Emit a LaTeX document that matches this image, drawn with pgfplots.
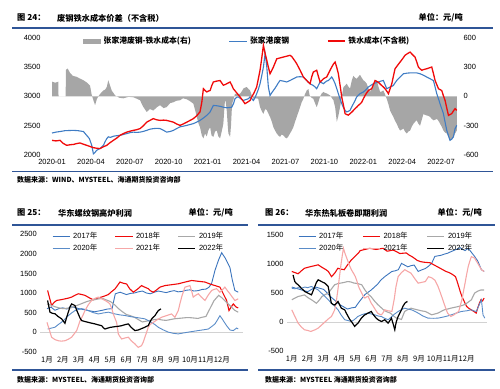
\documentclass[border=0pt]{standalone}
\usepackage{pgfplots}
\pgfplotsset{compat=1.18}
\usepackage{fontspec}
\setmainfont{Liberation Sans}
\newfontfamily\cjk{Noto Sans CJK SC}
\definecolor{rulec}{HTML}{2F5597}
\definecolor{blueT}{HTML}{3F7CC4}
\definecolor{redT}{HTML}{F00A0A}
\definecolor{greyA}{HTML}{A6A6A6}
\definecolor{c17}{HTML}{3B74BD}
\definecolor{c18}{HTML}{F00A0A}
\definecolor{c19}{HTML}{A8A8A8}
\definecolor{c20}{HTML}{5A8CC8}
\definecolor{c21}{HTML}{F6A7A7}
\definecolor{c22}{HTML}{000000}
\tikzset{
 tlab/.style={font=\cjk\bfseries\fontsize{8.2}{9}\selectfont, inner sep=0pt},
 slab/.style={font=\cjk\bfseries\fontsize{7}{8}\selectfont, inner sep=0pt}}
\pgfplotsset{
 base/.style={scale only axis, axis line style={draw=none}, major tick length=0pt,
   tick label style={font=\fontsize{7.5}{8}\selectfont},
   /pgf/number format/assume math mode=true, /pgf/number format/1000 sep={}},
 mleg/.style={legend columns=3, legend cell align=left,
   legend style={draw=none, fill=none, inner sep=0pt, font=\fontsize{7.5}{8.5}\selectfont,
   /tikz/every odd column/.append style={column sep=1pt},
   /tikz/every even column/.append style={column sep=15.5pt}}},
 monthax/.style={base, xtick={0,...,11},
   xticklabels={1月,2月,3月,4月,5月,6月,7月,8月,9月,10月,11月,12月},
   xticklabel style={font=\cjk\fontsize{7.5}{8}\selectfont, yshift=-1.5pt},
   axis x line*=bottom, axis y line*=left,
   extra y ticks={0}, extra y tick labels={},
   extra y tick style={grid=major, major grid style={gray!35, line width=0.5pt}}}
}
\begin{document}
\begin{tikzpicture}
\path[use as bounding box] (0pt,0pt) rectangle (500pt,388pt);
% ---------- header / footer top chart
\node[tlab, anchor=west] at (17pt,370pt) {图\ 24：};
\node[tlab, anchor=west] at (57pt,370pt) {废钢铁水成本价差（不含税）};
\node[tlab, anchor=east] at (463pt,370pt) {单位：元/吨};
\draw[rulec, line width=1.5pt] (12pt,360pt) -- (493pt,360pt);
\draw[rulec, line width=1.5pt] (12pt,216.3pt) -- (493pt,216.3pt);
\node[slab, anchor=west] at (17pt,208pt) {数据来源：WIND、MYSTEEL、海通期货投资咨询部};
% ---------- top chart, right axis (grey area)
\begin{axis}[base, at={(44pt,233pt)}, anchor=south west, width=416pt, height=117.3pt,
  xmin=-0.62, xmax=31.46, ymin=-600, ymax=600, axis y line*=right, axis x line=none,
  ytick={-600,-300,0,300,600}]
\addplot[fill=greyA, draw=none] coordinates {
(0,0) (0,150) (0.25,140) (0.48,150) (0.5,0) (1.05,0) (1.07,270) (1.2,285) (1.39,240) (1.6,210) (1.9,200) (2.1,185) (2.42,165) (2.7,140) (2.93,110) (3.05,20) (3.19,-40) (3.32,-90) (3.45,-30) (3.57,0) (3.8,40) (3.96,60) (4.1,70) (4.22,95) (4.34,165) (4.45,120) (4.6,60) (4.86,10) (5.2,-15) (5.5,-20) (5.9,-5) (6.3,-10) (6.79,-40) (7.0,-100) (7.3,-160) (7.55,-130) (7.81,-145) (8.1,-110) (8.33,-90) (8.6,-120) (8.84,-110) (9.1,-70) (9.36,-60) (9.6,-45) (9.87,-40) (10.1,-20) (10.39,-30) (10.65,-50) (10.9,-75) (11.05,-150) (11.16,-210) (11.3,-280) (11.41,-315) (11.55,-400) (11.67,-430) (11.8,-380) (11.93,-410) (12.05,-350) (12.19,-315) (12.3,-400) (12.44,-415) (12.57,-360) (12.7,-350) (12.83,-410) (12.96,-430) (13.1,-350) (13.21,-280) (13.3,-100) (13.34,-40) (13.4,-60) (13.47,-140) (13.55,-300) (13.6,-380) (13.73,-415) (13.8,-300) (13.86,-140) (13.92,-60) (13.98,-40) (14.11,27) (14.3,20) (14.5,27) (14.65,55) (14.76,80) (14.9,90) (15.01,95) (15.15,75) (15.27,60) (15.4,10) (15.53,-25) (15.7,-20) (15.9,-25) (16.04,-110) (16.17,-150) (16.3,-180) (16.43,-130) (16.56,-140) (16.7,-180) (16.81,-210) (16.95,-260) (17.07,-315) (17.2,-350) (17.33,-380) (17.45,-400) (17.58,-415) (17.71,-390) (17.84,-400) (17.97,-420) (18.1,-430) (18.22,-410) (18.35,-380) (18.48,-350) (18.61,-315) (18.74,-260) (18.87,-210) (19.0,-160) (19.13,-110) (19.25,-60) (19.38,-25) (19.5,20) (19.64,60) (19.77,75) (19.85,20) (19.9,0) (20.02,-15) (20.15,-25) (20.28,-70) (20.41,-110) (20.54,-60) (20.67,0) (20.8,30) (20.93,45) (21.05,35) (21.18,30) (21.31,20) (21.44,10) (21.57,-15) (21.7,-40) (21.83,-110) (21.96,-260) (22.08,-200) (22.21,-110) (22.34,-10) (22.47,95) (22.6,110) (22.72,130) (22.85,100) (22.98,80) (23.11,160) (23.24,210) (23.37,190) (23.49,180) (23.62,200) (23.75,220) (23.88,190) (24.01,165) (24.14,150) (24.27,130) (24.4,80) (24.52,45) (24.65,80) (24.78,110) (24.91,140) (25.04,165) (25.17,100) (25.3,45) (25.42,50) (25.55,60) (25.68,20) (25.81,-25) (25.94,-80) (26.07,-145) (26.2,-180) (26.32,-210) (26.45,-250) (26.58,-280) (26.71,-320) (26.84,-350) (26.97,-340) (27.1,-330) (27.22,-360) (27.35,-380) (27.48,-360) (27.61,-350) (27.74,-310) (27.87,-280) (28.0,-260) (28.12,-245) (28.25,-280) (28.38,-300) (28.51,-240) (28.64,-180) (28.76,-190) (28.89,-195) (29.02,-200) (29.15,-210) (29.28,-230) (29.41,-245) (29.54,-240) (29.67,-230) (29.8,-250) (29.92,-280) (30.05,-310) (30.18,-350) (30.31,-370) (30.44,-380) (30.57,-420) (30.69,-450) (30.82,-440) (30.95,-420) (31.08,-380) (31.21,-350) (31.21,0)
} \closedcycle;
\end{axis}
% ---------- top chart, left axis
\begin{axis}[base, at={(44pt,233pt)}, anchor=south west, width=416pt, height=117.3pt,
  xmin=-0.62, xmax=31.46, ymin=2000, ymax=4000, axis y line*=left, axis x line*=bottom,
  ytick={2000,2500,3000,3500,4000}, xtick={0,3,...,30},
  xticklabels={2020-01,2020-04,2020-07,2020-10,2021-01,2021-04,2021-07,2021-10,2022-01,2022-04,2022-07},
  xticklabel style={yshift=-1pt},
  legend columns=3,
  legend style={at={(0.094,1.025)}, anchor=north west, draw=none, fill=none, inner sep=0pt,
    font=\cjk\bfseries\fontsize{7.8}{9}\selectfont,
    /tikz/every odd column/.append style={column sep=1pt},
    /tikz/every even column/.append style={column sep=36pt}}]
\addlegendimage{legend image code/.code={\fill[greyA] (0pt,-2.2pt) rectangle (17pt,2.2pt);}}
\addlegendentry{张家港废钢-铁水成本(右)}
\addplot[blueT, line width=1.1pt] coordinates {
(0,2375) (0.3,2390) (0.62,2400) (1.0,2415) (1.65,2420) (2.0,2415) (2.42,2400) (2.67,2335) (2.88,2280) (3.06,2165) (3.19,2020) (3.3,2040) (3.44,2080) (3.7,2110) (3.96,2165) (4.1,2230) (4.22,2280) (4.34,2310) (4.5,2300) (4.73,2320) (5.0,2330) (5.24,2335) (5.5,2350) (5.76,2365) (6.0,2380) (6.27,2390) (6.5,2385) (6.79,2390) (7.0,2400) (7.3,2420) (7.55,2440) (7.81,2450) (8.1,2455) (8.33,2450) (8.6,2420) (8.84,2390) (9.1,2400) (9.36,2420) (9.6,2450) (9.87,2480) (10.1,2490) (10.39,2505) (10.65,2520) (10.9,2535) (11.15,2560) (11.41,2590) (11.67,2630) (11.93,2675) (12.19,2735) (12.44,2845) (12.7,2840) (12.96,2830) (13.21,2815) (13.47,2805) (13.7,2810) (13.86,2815) (14.0,2880) (14.11,2960) (14.25,2985) (14.37,2990) (14.55,2960) (14.76,2930) (14.95,2945) (15.14,2960) (15.27,2990) (15.4,2960) (15.53,2930) (15.66,2980) (15.78,3045) (15.91,3120) (16.04,3215) (16.17,3350) (16.3,3500) (16.43,3730) (16.5,3620) (16.56,3500) (16.68,3160) (16.81,3015) (16.94,3060) (17.07,3100) (17.2,3140) (17.33,3185) (17.45,3230) (17.58,3270) (17.84,3260) (18.1,3245) (18.35,3270) (18.61,3300) (18.87,3330) (19.13,3335) (19.38,3330) (19.51,3300) (19.64,3270) (19.77,3240) (19.9,3215) (20.02,3200) (20.15,3185) (20.28,3160) (20.41,3130) (20.54,3190) (20.67,3245) (20.8,3230) (20.93,3215) (21.05,3240) (21.18,3260) (21.31,3270) (21.44,3300) (21.57,3330) (21.7,3280) (21.83,3215) (21.96,3130) (22.08,3045) (22.21,2960) (22.34,2875) (22.47,2810) (22.6,2760) (22.72,2735) (22.85,2745) (22.98,2760) (23.11,2820) (23.24,2875) (23.37,2930) (23.49,2990) (23.62,3020) (23.75,3045) (23.88,3060) (24.01,3075) (24.2,3110) (24.4,3160) (24.6,3190) (24.78,3215) (24.97,3230) (25.17,3245) (25.36,3260) (25.55,3270) (25.68,3200) (25.81,3130) (25.94,3145) (26.07,3160) (26.2,3170) (26.32,3185) (26.45,3230) (26.58,3270) (26.84,3330) (27.1,3385) (27.35,3395) (27.61,3400) (27.87,3400) (28.12,3400) (28.38,3385) (28.64,3360) (28.89,3330) (29.15,3300) (29.28,3285) (29.41,3270) (29.54,3160) (29.67,3045) (29.8,2960) (29.92,2875) (30.05,2790) (30.18,2705) (30.31,2560) (30.44,2420) (30.57,2330) (30.69,2250) (30.82,2270) (30.95,2310) (31.08,2450) (31.21,2505)
};
\addlegendentry{张家港废钢}
\addplot[redT, line width=1.3pt] coordinates {
(0,2250) (0.3,2240) (0.62,2250) (0.85,2200) (1.13,2165) (1.4,2175) (1.65,2180) (1.9,2195) (2.16,2205) (2.4,2185) (2.67,2165) (2.93,2145) (3.19,2125) (3.45,2115) (3.7,2110) (3.96,2140) (4.22,2165) (4.47,2210) (4.73,2250) (5.0,2290) (5.24,2335) (5.5,2365) (5.76,2390) (6.0,2405) (6.27,2420) (6.5,2430) (6.79,2450) (7.05,2500) (7.3,2560) (7.55,2590) (7.81,2620) (8.07,2600) (8.33,2590) (8.6,2595) (8.84,2590) (9.1,2575) (9.36,2560) (9.6,2530) (9.87,2505) (10.13,2530) (10.39,2560) (10.65,2590) (10.9,2620) (11.16,2670) (11.41,2735) (11.55,2900) (11.67,3130) (11.8,3100) (11.93,3075) (12.06,3090) (12.19,3100) (12.31,3180) (12.44,3245) (12.7,3260) (12.96,3270) (13.08,3230) (13.21,3190) (13.34,3200) (13.47,3215) (13.6,3230) (13.73,3245) (13.86,3190) (13.98,3130) (14.24,3060) (14.5,2990) (14.7,2930) (14.88,2875) (15.07,2900) (15.27,2930) (15.4,2990) (15.53,3040) (15.66,3100) (15.78,3160) (15.91,3300) (16.04,3445) (16.17,3650) (16.3,3870) (16.43,3730) (16.56,3615) (16.68,3500) (16.81,3385) (16.94,3440) (17.07,3500) (17.2,3570) (17.33,3640) (17.58,3655) (17.84,3670) (18.1,3685) (18.35,3700) (18.48,3680) (18.61,3640) (18.74,3600) (18.87,3555) (19.0,3500) (19.13,3445) (19.25,3390) (19.38,3330) (19.51,3300) (19.64,3270) (19.77,3240) (19.9,3215) (20.02,3330) (20.15,3415) (20.28,3430) (20.41,3445) (20.54,3340) (20.67,3245) (20.8,3270) (20.93,3300) (21.05,3315) (21.18,3330) (21.38,3420) (21.57,3500) (21.7,3550) (21.83,3585) (21.96,3490) (22.08,3385) (22.21,3190) (22.34,2990) (22.47,2850) (22.6,2705) (22.72,2690) (22.85,2680) (22.98,2705) (23.11,2730) (23.24,2760) (23.37,2790) (23.49,2815) (23.62,2845) (23.75,2870) (23.88,2900) (24.01,2960) (24.14,3015) (24.27,3060) (24.4,3100) (24.52,3115) (24.65,3130) (24.78,3200) (24.91,3270) (25.04,3255) (25.17,3240) (25.3,3210) (25.42,3185) (25.55,3160) (25.68,3130) (25.81,3090) (25.94,3045) (26.07,3130) (26.2,3215) (26.32,3340) (26.45,3470) (26.65,3530) (26.84,3585) (27.03,3640) (27.22,3700) (27.42,3730) (27.61,3755) (27.8,3710) (27.99,3670) (28.12,3590) (28.25,3500) (28.38,3470) (28.51,3445) (28.7,3460) (28.89,3470) (29.08,3485) (29.28,3500) (29.41,3390) (29.54,3270) (29.67,3200) (29.8,3130) (29.92,3115) (30.05,3100) (30.18,3010) (30.31,2930) (30.44,2800) (30.57,2675) (30.69,2690) (30.82,2705) (30.95,2750) (31.08,2790) (31.21,2760)
};
\addlegendentry{铁水成本(不含税)}
\end{axis}
% ---------- bottom-left header/footer
\node[tlab, anchor=west] at (17pt,175pt) {图\ 25：};
\node[tlab, anchor=west] at (58pt,175pt) {华东螺纹钢高炉利润};
\node[tlab, anchor=east] at (233pt,175pt) {单位：元/吨};
\draw[rulec, line width=1.5pt] (12pt,163pt) -- (248pt,163pt);
\draw[rulec, line width=1.5pt] (12pt,18pt) -- (248pt,18pt);
\node[slab, anchor=west] at (17pt,8.5pt) {数据来源：MYSTEEL、海通期货投资咨询部};
% ---------- bottom-left chart
\begin{axis}[monthax, mleg, at={(40.3pt,36.3pt)}, anchor=south west, width=202.2pt, height=117.4pt,
  xmin=-0.42, xmax=12.3, ymin=-500, ymax=2500, ytick={-500,0,500,1000,1500,2000,2500},
  legend style={at={(0.058,1.035)}, anchor=north west}]
\addplot[c17, line width=0.9pt] coordinates {(0,600) (0.25,640) (0.5,560) (0.75,600) (1,620) (1.25,590) (1.5,650) (1.75,630) (2,600) (2.25,580) (2.5,560) (2.75,540) (3,520) (3.25,540) (3.5,560) (3.8,590) (4.1,600) (4.2,800) (4.3,980) (4.45,1000) (4.6,1020) (4.8,990) (5,960) (5.25,990) (5.5,1000) (5.75,1030) (6,1050) (6.25,1000) (6.5,980) (6.75,1020) (7,1050) (7.25,1030) (7.5,1010) (7.75,1040) (8,1060) (8.25,1030) (8.5,1040) (8.75,1070) (9,1080) (9.25,1050) (9.5,1060) (9.75,1090) (10,1100) (10.2,1150) (10.36,1250) (10.57,1580) (10.8,1850) (10.99,2030) (11.2,1900) (11.35,1780) (11.51,1650) (11.65,1350) (11.82,1065) (12.03,1020)};
\addlegendentry{2017{\cjk 年}}
\addplot[c18, line width=1.1pt] coordinates {(0.04,1065) (0.29,680) (0.45,760) (0.61,810) (0.9,830) (1.13,850) (1.35,870) (1.55,895) (1.75,940) (1.97,980) (2.2,960) (2.39,940) (2.65,880) (2.91,825) (3.2,870) (3.54,910) (3.86,960) (4.05,1030) (4.28,1105) (4.45,1200) (4.59,1280) (4.8,1250) (5.01,1230) (5.2,1110) (5.43,1020) (5.7,1100) (5.95,1190) (6.15,1150) (6.37,1110) (6.5,1060) (6.69,1020) (6.9,1080) (7.11,1150) (7.42,1190) (7.8,1210) (8.26,1235) (8.7,1280) (9.1,1320) (9.5,1300) (9.94,1280) (10.25,1230) (10.57,1190) (10.88,1150) (11.09,980) (11.3,810) (11.45,550) (11.6,650) (11.72,720) (11.9,640) (12.03,620)};
\addlegendentry{2018{\cjk 年}}
\addplot[c19, line width=1.1pt] coordinates {(0,720) (0.25,690) (0.5,650) (0.75,620) (1,600) (1.25,610) (1.5,620) (1.75,660) (2,700) (2.25,740) (2.5,780) (2.75,810) (3,830) (3.25,850) (3.5,860) (3.75,820) (4,780) (4.25,700) (4.5,600) (4.75,520) (5,450) (5.25,420) (5.5,380) (5.75,320) (6,260) (6.25,280) (6.5,300) (6.75,320) (7,330) (7.25,310) (7.5,300) (7.75,320) (8,340) (8.25,350) (8.5,360) (8.75,370) (9,370) (9.25,360) (9.5,350) (9.75,380) (10,400) (10.25,600) (10.5,800) (10.8,940) (11,880) (11.2,800) (11.5,680) (11.8,560) (12.03,510)};
\addlegendentry{2019{\cjk 年}}
\addplot[c20, line width=0.9pt] coordinates {(0.04,80) (0.25,100) (0.5,125) (0.7,190) (0.92,255) (1.15,340) (1.34,420) (1.55,490) (1.76,550) (2,580) (2.18,600) (2.4,580) (2.6,550) (2.9,500) (3.23,465) (3.55,490) (3.86,510) (4.05,490) (4.28,465) (4.6,440) (4.91,425) (5.2,400) (5.53,380) (5.85,360) (6.16,340) (6.4,290) (6.58,250) (6.8,190) (7.0,125) (7.3,60) (7.63,0) (7.95,-30) (8.26,-45) (8.6,-20) (8.89,0) (9.2,20) (9.52,40) (9.85,60) (10.15,80) (10.35,140) (10.57,210) (10.75,330) (10.88,420) (11.0,350) (11.09,295) (11.3,165) (11.51,55) (11.72,40) (11.93,105) (12.03,80)};
\addlegendentry{2020{\cjk 年}}
\addplot[c21, line width=1.1pt] coordinates {(0,250) (0.15,60) (0.29,-130) (0.5,-190) (0.71,-220) (0.9,-230) (1.13,-220) (1.35,-180) (1.55,-130) (1.7,-50) (1.87,40) (2.08,290) (2.25,420) (2.39,550) (2.6,700) (2.81,810) (3.0,860) (3.23,895) (3.45,850) (3.65,810) (3.85,760) (3.96,720) (4.08,600) (4.17,465) (4.28,350) (4.38,250) (4.49,-50) (4.6,-120) (4.7,-175) (4.9,-150) (5.12,-130) (5.3,-220) (5.53,-300) (5.74,-390) (5.95,-345) (6.06,-250) (6.16,-130) (6.27,0) (6.37,125) (6.5,200) (6.69,250) (6.95,320) (7.21,380) (7.5,420) (7.84,465) (8.05,380) (8.26,550) (8.36,720) (8.47,895) (8.58,1030) (8.68,1150) (8.85,1170) (8.99,1190) (9.1,1050) (9.2,895) (9.35,940) (9.52,980) (9.7,900) (9.94,810) (10.15,950) (10.36,1065) (10.5,1090) (10.67,1110) (10.88,1020) (11.05,1090) (11.19,1150) (11.35,1060) (11.51,980) (11.65,900) (11.82,810) (12.03,850)};
\addlegendentry{2021{\cjk 年}}
\addplot[c22, line width=1.2pt] coordinates {(0.04,810) (0.19,510) (0.35,480) (0.5,470) (0.7,400) (0.92,340) (1.13,225) (1.24,380) (1.34,510) (1.45,650) (1.55,720) (1.66,700) (1.76,680) (1.87,560) (1.97,465) (2.08,360) (2.18,295) (2.4,270) (2.6,250) (2.8,230) (3.02,210) (3.23,185) (3.44,165) (3.55,110) (3.65,80) (3.8,100) (3.96,120) (4.12,130) (4.28,140) (4.5,150) (4.7,165) (4.9,190) (5.12,210) (5.3,120) (5.53,40) (5.74,55) (5.95,90) (6.16,125) (6.27,150) (6.37,165) (6.48,260) (6.58,335) (6.69,380) (6.79,420) (6.9,490) (7.0,550) (7.17,595)};
\addlegendentry{2022{\cjk 年}}
\end{axis}
% ---------- bottom-right header/footer
\node[tlab, anchor=west] at (265pt,175pt) {图\ 26：};
\node[tlab, anchor=west] at (305pt,175pt) {华东热轧板卷即期利润};
\node[tlab, anchor=east] at (482pt,175pt) {单位：元/吨};
\draw[rulec, line width=1.5pt] (258pt,163pt) -- (495pt,163pt);
\draw[rulec, line width=1.5pt] (258pt,18pt) -- (495pt,18pt);
\node[slab, anchor=west] at (265pt,8.5pt) {数据来源：MYSTEEL 海通期货投资咨询部};
% ---------- bottom-right chart
\begin{axis}[monthax, mleg, at={(287pt,37.3pt)}, anchor=south west, width=200.3pt, height=115.7pt,
  xmin=-0.3, xmax=12.3, ymin=-500, ymax=1500, ytick={-500,0,500,1000,1500},
  legend style={at={(0.055,1.04)}, anchor=north west,
   /tikz/every even column/.append style={column sep=17pt}}]
\addplot[c17, line width=0.9pt] coordinates {(0,600) (0.25,580) (0.5,560) (0.75,540) (1.0,520) (1.25,560) (1.5,600) (1.75,580) (2.0,560) (2.25,490) (2.5,420) (2.75,360) (3.0,300) (3.25,260) (3.5,220) (3.75,240) (4.0,250) (4.2,330) (4.4,400) (4.6,470) (4.8,510) (5.0,550) (5.2,600) (5.4,650) (5.6,720) (5.85,780) (6.1,830) (6.3,870) (6.5,880) (6.7,900) (6.9,1010) (7.1,980) (7.3,950) (7.5,970) (7.7,980) (7.95,870) (8.2,900) (8.4,920) (8.6,960) (8.8,1010) (9.0,1130) (9.2,1140) (9.4,1150) (9.6,1170) (9.8,1185) (10.0,1210) (10.25,1240) (10.45,1260) (10.6,1280) (10.75,1250) (10.9,1230) (11.1,1270) (11.3,1200) (11.5,1130) (11.7,1050) (11.93,900) (12.1,870)};
\addlegendentry{2017{\cjk 年}}
\addplot[c18, line width=1.1pt] coordinates {(0,870) (0.2,850) (0.4,830) (0.6,880) (0.8,925) (1.0,940) (1.2,955) (1.45,970) (1.66,985) (1.85,950) (2.0,925) (2.15,900) (2.3,870) (2.5,780) (2.7,840) (2.9,925) (3.1,910) (3.3,900) (3.5,980) (3.75,1070) (3.9,1110) (4.07,1155) (4.2,1190) (4.3,1230) (4.6,1250) (4.9,1270) (5.1,1260) (5.3,1250) (5.5,1260) (5.74,1270) (6.0,1220) (6.2,1230) (6.37,1240) (6.6,1210) (6.8,1180) (7.0,1185) (7.2,1190) (7.4,1150) (7.6,1120) (7.9,1060) (8.1,1040) (8.3,1030) (8.5,1025) (8.7,1020) (8.9,990) (9.1,960) (9.3,930) (9.5,900) (9.7,870) (9.9,850) (10.1,820) (10.3,780) (10.4,700) (10.5,610) (10.6,520) (10.7,440) (10.85,350) (11.0,265) (11.15,230) (11.3,205) (11.45,180) (11.6,150) (11.7,240) (11.8,320) (11.9,380) (12.0,360) (12.1,410)};
\addlegendentry{2018{\cjk 年}}
\addplot[c19, line width=1.1pt] coordinates {(0,380) (0.2,410) (0.4,437) (0.6,450) (0.8,465) (1.0,420) (1.24,380) (1.4,350) (1.55,320) (1.75,380) (1.9,437) (2.1,470) (2.3,495) (2.5,570) (2.7,640) (2.9,660) (3.1,670) (3.3,680) (3.5,695) (3.7,690) (3.9,670) (4.15,660) (4.4,640) (4.6,550) (4.8,480) (5.0,430) (5.2,360) (5.4,300) (5.6,250) (5.8,200) (6.0,170) (6.2,150) (6.4,100) (6.6,60) (6.8,50) (6.9,40) (7.0,110) (7.1,178) (7.3,210) (7.5,235) (7.7,220) (7.9,207) (8.15,190) (8.4,178) (8.6,150) (8.8,120) (9.0,135) (9.2,150) (9.4,180) (9.6,207) (9.8,220) (10.0,235) (10.25,250) (10.5,265) (10.7,280) (10.9,300) (11.1,340) (11.3,380) (11.4,440) (11.5,495) (11.7,530) (11.9,550) (12.1,550)};
\addlegendentry{2019{\cjk 年}}
\addplot[c20, line width=0.9pt] coordinates {(0,580) (0.2,570) (0.4,590) (0.6,580) (0.82,600) (1.0,590) (1.24,610) (1.45,580) (1.66,550) (1.85,500) (2.08,440) (2.3,380) (2.49,320) (2.7,270) (2.91,207) (3.1,120) (3.33,35) (3.55,20) (3.75,5) (3.95,40) (4.15,90) (4.38,120) (4.6,140) (4.8,150) (5.0,135) (5.22,120) (5.43,100) (5.64,90) (5.85,60) (6.06,35) (6.25,80) (6.45,130) (6.69,178) (6.9,210) (7.11,235) (7.3,220) (7.53,207) (7.75,180) (7.95,150) (8.25,100) (8.57,63) (8.9,60) (9.2,63) (9.5,80) (9.8,100) (10.04,120) (10.35,150) (10.67,178) (11.0,190) (11.3,207) (11.45,190) (11.61,178) (11.72,250) (11.83,320) (11.93,380) (12.03,120) (12.14,63)};
\addlegendentry{2020{\cjk 年}}
\addplot[c21, line width=1.1pt] coordinates {(0,207) (0.2,90) (0.4,-23) (0.6,-90) (0.8,-138) (1.0,-150) (1.2,-167) (1.45,-140) (1.66,-110) (1.9,-50) (2.1,0) (2.3,50) (2.5,92) (2.7,207) (2.8,350) (2.9,550) (3.0,780) (3.1,1000) (3.18,1150) (3.25,1270) (3.35,1180) (3.5,1070) (3.62,980) (3.75,900) (3.9,830) (4.0,780) (4.1,700) (4.2,610) (4.3,550) (4.4,495) (4.5,440) (4.6,410) (4.7,430) (4.8,440) (4.9,380) (5.0,320) (5.1,280) (5.2,235) (5.3,190) (5.4,150) (5.52,130) (5.64,120) (5.75,160) (5.85,207) (6.05,190) (6.3,180) (6.45,400) (6.55,600) (6.69,780) (6.9,850) (7.11,900) (7.3,870) (7.5,840) (7.7,760) (7.95,667) (8.15,680) (8.4,695) (8.6,780) (8.8,760) (9.0,720) (9.2,610) (9.35,500) (9.5,380) (9.65,260) (9.8,150) (10.0,92) (10.2,120) (10.5,178) (10.7,380) (10.9,667) (11.0,820) (11.1,955) (11.2,1050) (11.3,1127) (11.5,1100) (11.7,1010) (11.93,900) (12.1,870)};
\addlegendentry{2021{\cjk 年}}
\addplot[c22, line width=1.2pt] coordinates {(0.08,810) (0.19,695) (0.3,660) (0.4,640) (0.6,580) (0.82,523) (1.05,490) (1.24,465) (1.35,540) (1.45,610) (1.55,680) (1.66,725) (1.77,710) (1.87,695) (1.98,680) (2.08,667) (2.19,640) (2.29,610) (2.39,460) (2.49,320) (2.6,300) (2.7,290) (2.81,320) (2.91,350) (3.02,290) (3.12,235) (3.22,220) (3.33,207) (3.45,140) (3.55,90) (3.65,40) (3.75,5) (3.86,-40) (3.96,-80) (4.06,-50) (4.17,-23) (4.27,20) (4.38,63) (4.48,90) (4.59,120) (4.7,135) (4.8,150) (4.9,165) (5.0,178) (5.11,130) (5.22,92) (5.32,60) (5.43,35) (5.53,20) (5.64,5) (5.75,20) (5.85,35) (5.96,5) (6.06,-23) (6.17,20) (6.27,63) (6.38,-40) (6.48,-138) (6.53,-60) (6.58,5) (6.69,92) (6.8,150) (6.9,207) (7.0,270) (7.11,320) (7.2,340) (7.28,350)};
\addlegendentry{2022{\cjk 年}}
\end{axis}
\end{tikzpicture}
\end{document}
